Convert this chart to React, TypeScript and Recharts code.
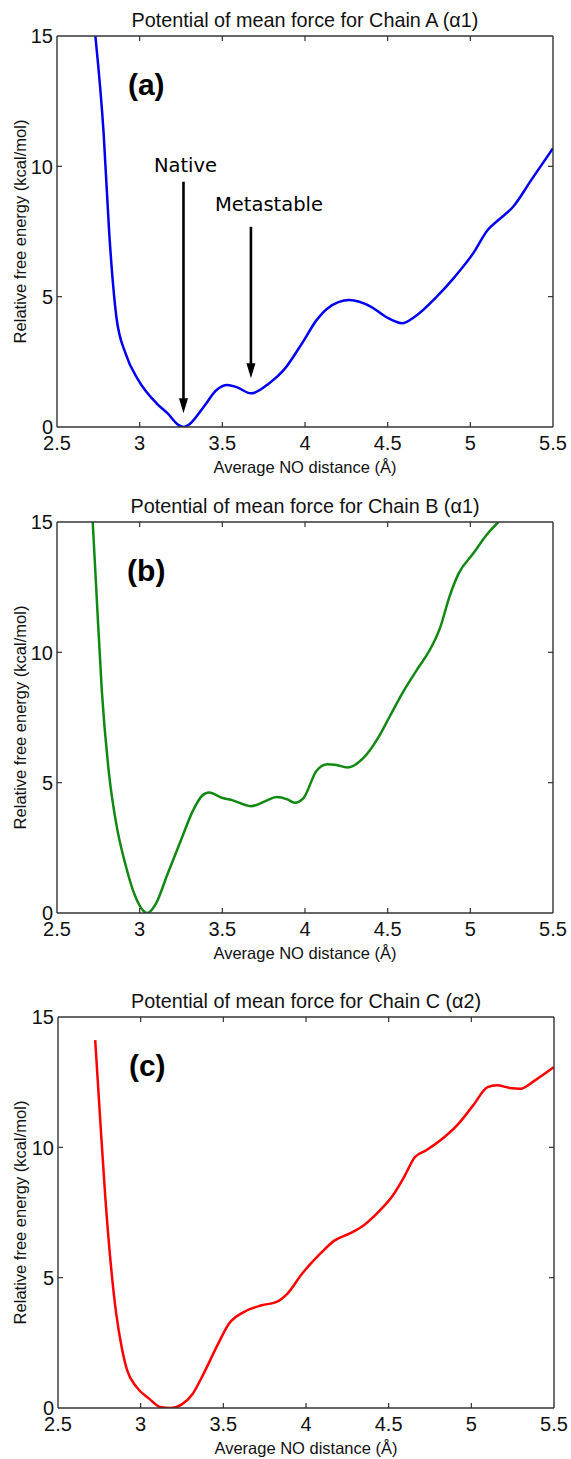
import React from 'react';
import { LineChart, Line, XAxis, YAxis, ReferenceLine, ReferenceDot, Label } from 'recharts';

// ---- data ----
const xTicks = [2.5, 3, 3.5, 4, 4.5, 5, 5.5];
const yTicks = [0, 5, 10, 15];

const chainADist = [2.732, 2.782, 2.816, 2.859, 2.914, 2.992, 3.102, 3.168, 3.234, 3.267, 3.3, 3.388, 3.465, 3.531, 3.586, 3.674, 3.784, 3.872, 3.982, 4.07, 4.136, 4.268, 4.4, 4.488, 4.587, 4.664, 4.797, 4.907, 5.017, 5.105, 5.17, 5.259, 5.369, 5.5];
const chainAEnergy = [15, 11.27, 7.43, 4.23, 2.83, 1.8, 0.91, 0.53, 0.08, 0, 0.1, 0.78, 1.42, 1.61, 1.53, 1.29, 1.68, 2.19, 3.21, 4.1, 4.55, 4.87, 4.61, 4.23, 3.98, 4.23, 5.0, 5.77, 6.66, 7.56, 7.94, 8.45, 9.48, 10.69];

const chainBDist = [2.716, 2.738, 2.771, 2.815, 2.859, 2.914, 2.969, 3.046, 3.1, 3.167, 3.255, 3.321, 3.376, 3.42, 3.497, 3.563, 3.673, 3.761, 3.827, 3.893, 3.937, 3.992, 4.069, 4.135, 4.19, 4.256, 4.355, 4.443, 4.509, 4.598, 4.686, 4.752, 4.818, 4.873, 4.928, 5.016, 5.104, 5.17];
const chainBEnergy = [15, 12.37, 8.53, 5.32, 3.4, 1.86, 0.71, 0, 0.38, 1.47, 2.88, 3.91, 4.49, 4.62, 4.42, 4.32, 4.1, 4.29, 4.45, 4.36, 4.23, 4.42, 5.45, 5.71, 5.68, 5.58, 5.96, 6.73, 7.5, 8.53, 9.42, 10.06, 10.96, 12.12, 13.01, 13.78, 14.55, 15];

const chainCDist = [2.725, 2.753, 2.786, 2.819, 2.852, 2.885, 2.918, 2.974, 3.051, 3.117, 3.183, 3.249, 3.315, 3.381, 3.469, 3.535, 3.623, 3.733, 3.822, 3.888, 3.976, 4.086, 4.174, 4.262, 4.35, 4.438, 4.526, 4.593, 4.659, 4.725, 4.813, 4.923, 5.011, 5.099, 5.154, 5.231, 5.297, 5.385, 5.5];
const chainCEnergy = [14.11, 11.29, 8.09, 5.54, 3.62, 2.34, 1.45, 0.81, 0.36, 0.04, 0, 0.14, 0.55, 1.32, 2.47, 3.24, 3.68, 3.94, 4.07, 4.39, 5.15, 5.92, 6.43, 6.69, 7.01, 7.52, 8.16, 8.86, 9.63, 9.88, 10.27, 10.91, 11.61, 12.31, 12.38, 12.28, 12.25, 12.57, 13.08];

// annotation anchors (data coords)
const nativeArrow = { x: 3.265, top: 9.41, tip: 0.53 };
const metaArrow = { x: 3.673, top: 7.68, tip: 1.87 };
const nativeText = { x: 3.277, y: 9.78 };
const metaText = { x: 3.782, y: 8.29 };
const tagPos = { x: 3.04, y: 12.72 };

const AXIS = '#333';
const SANS = '"Liberation Sans", Arial, Helvetica, sans-serif';
const TICK_LEN = 5;
const W = 571;
const H = 478;
const PLOT_W = 496;

const zip = (xs: number[], ys: number[]) => xs.map((d, i) => ({ d, e: ys[i] }));

const BottomTick = (p: any) => {
  const { x, y, payload } = p;
  const v = payload.value;
  const axisY = y - 9;
  return (
    <g>
      {v > 2.5 && v < 5.5 && <line x1={x} x2={x} y1={axisY} y2={axisY - TICK_LEN} stroke={AXIS} strokeWidth={1.2} />}
      <text x={x} y={y} dy="0.72em" textAnchor="middle" fontSize={20} fontFamily={SANS} fill="#111">{String(v)}</text>
    </g>
  );
};

const TopTick = (p: any) => {
  const { x, y, payload } = p;
  const v = payload.value;
  if (v <= 2.5 || v >= 5.5) return <g />;
  return <line x1={x} x2={x} y1={y} y2={y + TICK_LEN} stroke={AXIS} strokeWidth={1.2} />;
};

const LeftTick = (p: any) => {
  const { x, y, payload } = p;
  const v = payload.value;
  const axisX = x + 4;
  return (
    <g>
      {v > 0 && v < 15 && <line x1={axisX} x2={axisX + TICK_LEN} y1={y} y2={y} stroke={AXIS} strokeWidth={1.2} />}
      <text x={x} y={y} dy="0.36em" textAnchor="end" fontSize={20} fontFamily={SANS} fill="#111">{String(v)}</text>
    </g>
  );
};

const RightTick = (p: any) => {
  const { x, y, payload } = p;
  const v = payload.value;
  if (v <= 0 || v >= 15) return <g />;
  return <line x1={x} x2={x - TICK_LEN} y1={y} y2={y} stroke={AXIS} strokeWidth={1.2} />;
};

const Arrow = (p: any) => {
  const { x1, y1, x2, y2 } = p;
  const head = 15;
  return (
    <g>
      <line x1={x1} y1={y1} x2={x2} y2={y2 - head + 2} stroke="#000" strokeWidth={2.6} />
      <polygon points={`${x2 - 4.5},${y2 - head} ${x2 + 4.5},${y2 - head} ${x2},${y2}`} fill="#000" />
    </g>
  );
};

type PanelProps = {
  data: { d: number; e: number }[];
  color: string;
  title: string;
  tag: string;
  top: number;
  left: number;
  arrows?: boolean;
};

function Panel({ data, color, title, tag, top, left, arrows }: PanelProps) {
  const axisLine = { stroke: AXIS, strokeWidth: 1.4 };
  return (
    <div style={{ position: 'absolute', top, left: 0 }}>
      <LineChart width={W} height={H} data={data} margin={{ top: 35, right: W - left - PLOT_W - 1, bottom: 21, left: 0 }}>
        <XAxis
          xAxisId="bottom"
          dataKey="d"
          type="number"
          domain={[2.5, 5.5]}
          allowDataOverflow
          ticks={xTicks}
          interval={0}
          height={30}
          tickSize={0}
          tickMargin={9}
          tickLine={false}
          axisLine={axisLine}
          tick={<BottomTick />}
        >
          <Label
            content={(lp: any) => {
              const vb = lp.viewBox;
              return (
                <text x={vb.x + vb.width / 2} y={vb.y + 46} textAnchor="middle" fontSize={16.5} fontFamily={SANS} fill="#111">
                  Average NO distance (Å)
                </text>
              );
            }}
          />
        </XAxis>
        <XAxis
          xAxisId="top"
          dataKey="d"
          orientation="top"
          type="number"
          domain={[2.5, 5.5]}
          allowDataOverflow
          ticks={xTicks}
          interval={0}
          height={1}
          tickSize={0}
          tickMargin={0}
          tickLine={false}
          axisLine={axisLine}
          tick={<TopTick />}
        >
          <Label
            content={(lp: any) => {
              const vb = lp.viewBox;
              return (
                <text x={vb.x + vb.width / 2} y={vb.y + vb.height - 9} textAnchor="middle" fontSize={19.8} fontFamily={SANS} fill="#111">
                  {title}
                </text>
              );
            }}
          />
        </XAxis>
        <YAxis
          yAxisId="left"
          type="number"
          domain={[0, 15]}
          allowDataOverflow
          ticks={yTicks}
          interval={0}
          width={left}
          tickSize={0}
          tickMargin={4}
          tickLine={false}
          axisLine={axisLine}
          tick={<LeftTick />}
        >
          <Label
            content={(lp: any) => {
              const vb = lp.viewBox;
              const cx = vb.x + 20;
              const cy = vb.y + vb.height / 2;
              return (
                <text x={cx} y={cy} transform={`rotate(-90 ${cx} ${cy})`} dy="0.36em" textAnchor="middle" fontSize={16.5} fontFamily={SANS} fill="#111">
                  Relative free energy (kcal/mol)
                </text>
              );
            }}
          />
        </YAxis>
        <YAxis
          yAxisId="right"
          orientation="right"
          type="number"
          domain={[0, 15]}
          allowDataOverflow
          ticks={yTicks}
          interval={0}
          width={1}
          tickSize={0}
          tickMargin={0}
          tickLine={false}
          axisLine={axisLine}
          tick={<RightTick />}
        />
        <Line
          xAxisId="bottom"
          yAxisId="left"
          type="monotone"
          dataKey="e"
          stroke={color}
          strokeWidth={2.5}
          dot={false}
          isAnimationActive={false}
        />
        <ReferenceDot
          xAxisId="bottom"
          yAxisId="left"
          x={tagPos.x}
          y={tagPos.y}
          r={0}
          shape={(sp: any) => (
            <text x={sp.cx} y={sp.cy} textAnchor="middle" fontSize={30} fontWeight="bold" fontFamily={SANS} fill="#000">
              {tag}
            </text>
          )}
        />
        {arrows && (
          <ReferenceLine
            xAxisId="bottom"
            yAxisId="left"
            segment={[{ x: nativeArrow.x, y: nativeArrow.top }, { x: nativeArrow.x, y: nativeArrow.tip }]}
            shape={<Arrow />}
          />
        )}
        {arrows && (
          <ReferenceLine
            xAxisId="bottom"
            yAxisId="left"
            segment={[{ x: metaArrow.x, y: metaArrow.top }, { x: metaArrow.x, y: metaArrow.tip }]}
            shape={<Arrow />}
          />
        )}
        {arrows && (
          <ReferenceDot
            xAxisId="bottom"
            yAxisId="left"
            x={nativeText.x}
            y={nativeText.y}
            r={0}
            shape={(sp: any) => (
              <text x={sp.cx} y={sp.cy} textAnchor="middle" fontSize={19.5} fontFamily='"DejaVu Sans", Verdana, sans-serif' fill="#000">
                Native
              </text>
            )}
          />
        )}
        {arrows && (
          <ReferenceDot
            xAxisId="bottom"
            yAxisId="left"
            x={metaText.x}
            y={metaText.y}
            r={0}
            shape={(sp: any) => (
              <text x={sp.cx} y={sp.cy} textAnchor="middle" fontSize={19.5} fontFamily='"DejaVu Sans", Verdana, sans-serif' fill="#000">
                Metastable
              </text>
            )}
          />
        )}
      </LineChart>
    </div>
  );
}

export default function App() {
  return (
    <div style={{ position: 'absolute', top: 0, left: 0, width: W, height: 1459, overflow: 'hidden', background: '#fff' }}>
      <Panel data={zip(chainADist, chainAEnergy)} color="#0000f0" title="Potential of mean force for Chain A (α1)" tag="(a)" top={0} left={57} arrows />
      <Panel data={zip(chainBDist, chainBEnergy)} color="#118811" title="Potential of mean force for Chain B (α1)" tag="(b)" top={486} left={57} />
      <Panel data={zip(chainCDist, chainCEnergy)} color="#ff0000" title="Potential of mean force for Chain C (α2)" tag="(c)" top={981} left={58} />
    </div>
  );
}
